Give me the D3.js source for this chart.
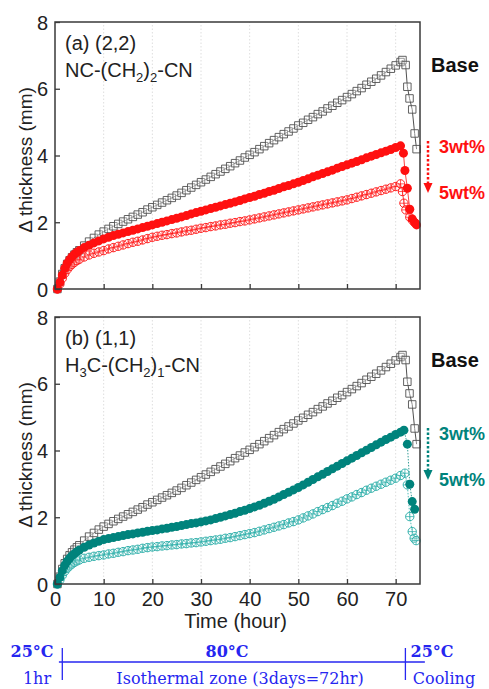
<!DOCTYPE html>
<html lang="en">
<head>
    <meta charset="UTF-8">
    <title>Thickness change vs time</title>
    <script src="https://d3js.org/d3.v7.min.js"></script>
    <style>
        body { margin: 0; background: #fff; }
        svg text { font-family: "Liberation Sans", Arial, sans-serif; }
        .tl text { font-family: "DejaVu Serif", Georgia, serif; fill: #2626f0; }
    </style>
</head>
<body>
<script>
    // time points for the isothermal part (hour)
    var hours = [0.5, 1, 1.5, 2, 2.5, 3, 3.5, 4, 4.5, 5,
        6, 7, 8, 9, 10, 11, 12, 13, 14, 15, 16, 17, 18, 19, 20,
        21, 22, 23, 24, 25, 26, 27, 28, 29, 30, 31, 32, 33, 34, 35,
        36, 37, 38, 39, 40, 41, 42, 43, 44, 45, 46, 47, 48, 49, 50,
        51, 52, 53, 54, 55, 56, 57, 58, 59, 60, 61, 62, 63, 64, 65,
        66, 67, 68, 69, 70, 71];

    // Base (same sample in both panels)
    var base = [0, 0.22, 0.45, 0.62, 0.75, 0.86, 0.95, 1.03, 1.1, 1.16,
        1.3, 1.42, 1.53, 1.63, 1.72, 1.8, 1.88, 1.95, 2.02, 2.09, 2.16, 2.23, 2.3, 2.38, 2.45,
        2.52, 2.59, 2.66, 2.73, 2.8, 2.88, 2.96, 3.04, 3.12, 3.2, 3.28, 3.36, 3.44, 3.52, 3.6,
        3.68, 3.77, 3.85, 3.94, 4.02, 4.1, 4.19, 4.28, 4.37, 4.46, 4.55, 4.64, 4.72, 4.81, 4.9,
        4.98, 5.07, 5.15, 5.24, 5.32, 5.41, 5.49, 5.58, 5.66, 5.75, 5.84, 5.93, 6.02, 6.12, 6.21,
        6.3, 6.4, 6.5, 6.6, 6.7, 6.8];
    var baseCoolT = [71.4, 72.05, 72.4, 72.85, 73.4, 73.9, 74.3];
    var baseCool = [6.86, 6.71, 6.06, 5.71, 5.38, 4.66, 4.19];

    // (a) NC-(CH2)2-CN
    var a3 = [0, 0.2, 0.42, 0.62, 0.77, 0.88, 0.97, 1.04, 1.1, 1.15,
        1.24, 1.31, 1.38, 1.44, 1.5, 1.55, 1.6, 1.64, 1.68, 1.72, 1.76, 1.8, 1.84, 1.88, 1.92,
        1.96, 2.0, 2.04, 2.08, 2.12, 2.16, 2.2, 2.25, 2.29, 2.33, 2.37, 2.41, 2.45, 2.49, 2.53,
        2.57, 2.61, 2.65, 2.7, 2.74, 2.78, 2.83, 2.87, 2.92, 2.96, 3.01, 3.06, 3.1, 3.15, 3.2,
        3.25, 3.3, 3.36, 3.41, 3.46, 3.51, 3.56, 3.62, 3.67, 3.72, 3.77, 3.82, 3.87, 3.93, 3.98,
        4.03, 4.08, 4.13, 4.18, 4.24, 4.29];
    var a3CoolT = [71.6, 71.9, 72.4, 72.9, 73.4, 73.9, 74.3];
    var a3Cool = [4.07, 3.55, 3.02, 2.39, 2.1, 1.99, 1.92];

    var a5 = [0, 0.15, 0.32, 0.47, 0.58, 0.67, 0.74, 0.8, 0.85, 0.89,
        0.96, 1.02, 1.07, 1.11, 1.15, 1.2, 1.24, 1.28, 1.32, 1.36, 1.4, 1.43, 1.47, 1.51, 1.55,
        1.58, 1.61, 1.63, 1.66, 1.68, 1.71, 1.74, 1.76, 1.79, 1.82, 1.84, 1.87, 1.89, 1.92, 1.94,
        1.97, 1.99, 2.02, 2.04, 2.07, 2.1, 2.13, 2.16, 2.19, 2.22, 2.25, 2.28, 2.31, 2.34, 2.37,
        2.4, 2.43, 2.46, 2.49, 2.52, 2.55, 2.58, 2.61, 2.64, 2.67, 2.71, 2.75, 2.79, 2.83, 2.87,
        2.91, 2.95, 2.99, 3.03, 3.07, 3.15];
    var a5CoolT = [71.4, 71.7, 72.1, 72.9, 73.5, 74.0];
    var a5Cool = [2.92, 2.57, 2.37, 2.15, 2.05, 1.98];

    // (b) H3C-(CH2)1-CN
    var b3 = [0, 0.2, 0.4, 0.56, 0.68, 0.77, 0.85, 0.91, 0.97, 1.02,
        1.1, 1.17, 1.23, 1.28, 1.33, 1.36, 1.39, 1.42, 1.45, 1.48, 1.5, 1.53, 1.55, 1.58, 1.6,
        1.62, 1.65, 1.67, 1.7, 1.72, 1.75, 1.78, 1.81, 1.83, 1.86, 1.89, 1.92, 1.96, 2.0, 2.04,
        2.08, 2.12, 2.17, 2.21, 2.26, 2.31, 2.36, 2.42, 2.48, 2.54, 2.61, 2.68, 2.75, 2.82, 2.89,
        2.97, 3.05, 3.13, 3.21, 3.29, 3.37, 3.45, 3.53, 3.61, 3.69, 3.77, 3.85, 3.93, 4.01, 4.09,
        4.17, 4.25, 4.33, 4.4, 4.48, 4.55];
    var b3CoolT = [71.7, 72.4, 72.9, 73.4, 73.9];
    var b3Cool = [4.61, 4.19, 2.99, 2.47, 2.24];

    var b5 = [0, 0.12, 0.26, 0.38, 0.47, 0.54, 0.6, 0.65, 0.69, 0.72,
        0.77, 0.8, 0.83, 0.85, 0.87, 0.9, 0.92, 0.95, 0.97, 1.0, 1.02, 1.04, 1.07, 1.09, 1.11,
        1.12, 1.14, 1.15, 1.17, 1.18, 1.2, 1.21, 1.23, 1.24, 1.26, 1.28, 1.3, 1.32, 1.34, 1.37,
        1.39, 1.42, 1.45, 1.48, 1.51, 1.54, 1.58, 1.62, 1.66, 1.7, 1.74, 1.78, 1.83, 1.87, 1.92,
        1.98, 2.04, 2.1, 2.17, 2.23, 2.29, 2.35, 2.42, 2.48, 2.55, 2.61, 2.68, 2.74, 2.81, 2.87,
        2.93, 2.99, 3.05, 3.11, 3.17, 3.25];
    var b5CoolT = [71.9, 72.4, 72.9, 73.4, 73.8, 74.2];
    var b5Cool = [3.32, 2.97, 2.02, 1.57, 1.37, 1.3];

    var xTicks = [0, 10, 20, 30, 40, 50, 60, 70];
    var yTicks = [0, 2, 4, 6, 8];

    var red = "#ff1010", teal = "#00837c", tealLight = "#22aaa5", grey = "#505050";

    var width = 489, height = 689;
    var svg = d3.select("body").append("svg")
        .attr("width", width).attr("height", height);

    var x = d3.scaleLinear().domain([0, 75]).range([55, 420]);

    function pts(t, v, ct, cv) {
        var out = t.map(function(d, i) { return [d, v[i]]; });
        ct.forEach(function(d, i) { out.push([d, cv[i]]); });
        return out;
    }

    function drawPanel(top, showX, info) {
        var y = d3.scaleLinear().domain([0, 8]).range([top + 267, top]);
        var g = svg.append("g");

        // dotted grid
        g.selectAll(".grid").data(xTicks.slice(1)).enter().append("line")
            .attr("x1", function(d) { return x(d); }).attr("x2", function(d) { return x(d); })
            .attr("y1", y(0)).attr("y2", y(8))
            .attr("stroke", "#dedede").attr("stroke-width", 1)
            .attr("stroke-dasharray", "1.5,2");

        var line = d3.line()
            .x(function(d) { return x(d[0]); })
            .y(function(d) { return y(d[1]); });

        // base
        var bp = pts(hours, base, baseCoolT, baseCool);
        g.append("path").attr("d", line(bp)).attr("fill", "none")
            .attr("stroke", grey).attr("stroke-width", 1);
        g.selectAll(".sq").data(bp).enter().append("path")
            .attr("d", d3.symbol().type(d3.symbolSquare).size(56))
            .attr("transform", function(d) { return "translate(" + x(d[0]) + "," + y(d[1]) + ")"; })
            .attr("fill", "#fff").attr("fill-opacity", 0.35)
            .attr("stroke", grey).attr("stroke-width", 0.9);

        // 5wt% open crossed circles
        var op = pts(hours, info.v5, info.t5c, info.v5c);
        g.append("path").attr("d", line(op)).attr("fill", "none")
            .attr("stroke", info.c5).attr("stroke-width", 0.8)
            .attr("stroke-dasharray", info.dash);
        var oc = g.selectAll(".oc").data(op).enter().append("g")
            .attr("transform", function(d) { return "translate(" + x(d[0]) + "," + y(d[1]) + ")"; });
        oc.append("circle").attr("r", 4.2).attr("fill", "#fff").attr("fill-opacity", 0.3)
            .attr("stroke", info.c5).attr("stroke-width", 0.9);
        oc.append("path").attr("d", "M-4.2,0H4.2M0,-4.2V4.2")
            .attr("stroke", info.c5).attr("stroke-width", 0.7);

        // 3wt% filled circles
        var fp = pts(hours, info.v3, info.t3c, info.v3c);
        g.append("path").attr("d", line(fp)).attr("fill", "none")
            .attr("stroke", info.c3).attr("stroke-width", 0.8)
            .attr("stroke-dasharray", info.dash);
        g.selectAll(".fc").data(fp).enter().append("circle")
            .attr("cx", function(d) { return x(d[0]); })
            .attr("cy", function(d) { return y(d[1]); })
            .attr("r", 4.5).attr("fill", info.c3);

        // frame
        g.append("rect").attr("x", x(0)).attr("y", y(8))
            .attr("width", x(75) - x(0)).attr("height", y(0) - y(8))
            .attr("fill", "none").attr("stroke", "#3a3a3a").attr("stroke-width", 1.5);

        // axes, ticks inward
        var xa = g.append("g").attr("transform", "translate(0," + y(0) + ")")
            .call(d3.axisBottom(x).tickValues(xTicks).tickSizeInner(-5).tickSizeOuter(0).tickPadding(8));
        var ya = g.append("g").attr("transform", "translate(" + x(0) + ",0)")
            .call(d3.axisLeft(y).tickValues(yTicks).tickSizeInner(-5).tickSizeOuter(0).tickPadding(7));
        [xa, ya].forEach(function(a) {
            a.select(".domain").remove();
            a.selectAll("line").attr("stroke", "#3a3a3a").attr("stroke-width", 1.3);
            a.selectAll("text").attr("font-size", 20).attr("fill", "#222")
                .style("font-family", "'Liberation Sans', Arial, sans-serif");
        });
        ya.selectAll("text").attr("dy", "0.36em");
        if (!showX) xa.selectAll("text").remove();

        g.append("text").attr("transform", "translate(32," + (top + 138) + ") rotate(-90)")
            .attr("text-anchor", "middle").attr("font-size", 19).attr("fill", "#222")
            .text("\u0394 thickness (mm)");

        // panel label
        g.append("text").attr("x", 65).attr("y", top + 28).attr("font-size", 20)
            .attr("fill", "#222").text(info.label);
        var f = g.append("text").attr("x", 65).attr("y", top + 55).attr("font-size", 20).attr("fill", "#222");
        info.formula.forEach(function(p) {
            var s = f.append("tspan").text(p[0]);
            if (p[1]) s.attr("font-size", 13).attr("dy", 5);
            else s.attr("dy", p[2] ? -5 : 0);
        });

        // legend on the right
        g.append("text").attr("x", 431).attr("y", top + 50).attr("font-size", 20)
            .attr("font-weight", "bold").attr("fill", "#111").text("Base");
        g.append("text").attr("x", 439).attr("y", top + info.l3).attr("font-size", 18)
            .attr("font-weight", "bold").attr("fill", info.c3).text("3wt%");
        g.append("text").attr("x", 439).attr("y", top + info.l3 + 46).attr("font-size", 18)
            .attr("font-weight", "bold").attr("fill", info.c3).text("5wt%");
        var ax = 428, a0 = top + info.l3 - 12, a1 = top + info.l3 + 30;
        g.append("line").attr("x1", ax).attr("x2", ax).attr("y1", a0).attr("y2", a1)
            .attr("stroke", info.c3).attr("stroke-width", 2.5).attr("stroke-dasharray", "2.5,2");
        g.append("path").attr("d", "M" + (ax - 4.5) + "," + a1 + "L" + (ax + 4.5) + "," + a1 + "L" + ax + "," + (a1 + 10) + "Z")
            .attr("fill", info.c3);

        if (showX) {
            g.append("text").attr("x", x(37.5) - 2).attr("y", y(0) + 44).attr("text-anchor", "middle")
                .attr("font-size", 20).attr("fill", "#222").text("Time (hour)");
        }
        return y;
    }

    drawPanel(22, false, {
        label: "(a) (2,2)",
        formula: [["NC-(CH"], ["2", true], [")", false, true], ["2", true], ["-CN", false, true]],
        v3: a3, t3c: a3CoolT, v3c: a3Cool, c3: red,
        v5: a5, t5c: a5CoolT, v5c: a5Cool, c5: red,
        dash: null, l3: 131
    });
    drawPanel(317, true, {
        label: "(b) (1,1)",
        formula: [["H"], ["3", true], ["C-(CH", false, true], ["2", true], [")", false, true], ["1", true], ["-CN", false, true]],
        v3: b3, t3c: b3CoolT, v3c: b3Cool, c3: teal,
        v5: b5, t5c: b5CoolT, v5c: b5Cool, c5: tealLight,
        dash: "1.5,1.5", l3: 123
    });

    // process timeline under the chart
    var tl = svg.append("g").attr("class", "tl");
    var ly = 662;
    tl.append("line").attr("x1", x(0.8)).attr("x2", x(76)).attr("y1", ly).attr("y2", ly)
        .attr("stroke", "#2626f0").attr("stroke-width", 1.3);
    [1.5, 72].forEach(function(t) {
        tl.append("line").attr("x1", x(t)).attr("x2", x(t)).attr("y1", 648).attr("y2", 680)
            .attr("stroke", "#2626f0").attr("stroke-width", 1.3);
    });
    tl.append("text").attr("x", 32).attr("y", 657).attr("text-anchor", "middle")
        .attr("font-size", 16).attr("font-weight", "bold").text("25\u00b0C");
    tl.append("text").attr("x", 37).attr("y", 684).attr("text-anchor", "middle")
        .attr("font-size", 16).text("1hr");
    tl.append("text").attr("x", 227).attr("y", 657).attr("text-anchor", "middle")
        .attr("font-size", 16).attr("font-weight", "bold").text("80\u00b0C");
    tl.append("text").attr("x", 240).attr("y", 684).attr("text-anchor", "middle")
        .attr("font-size", 16).text("Isothermal zone (3days=72hr)");
    tl.append("text").attr("x", 432).attr("y", 657).attr("text-anchor", "middle")
        .attr("font-size", 16).attr("font-weight", "bold").text("25\u00b0C");
    tl.append("text").attr("x", 444).attr("y", 684).attr("text-anchor", "middle")
        .attr("font-size", 16).text("Cooling");
</script>
</body>
</html>
